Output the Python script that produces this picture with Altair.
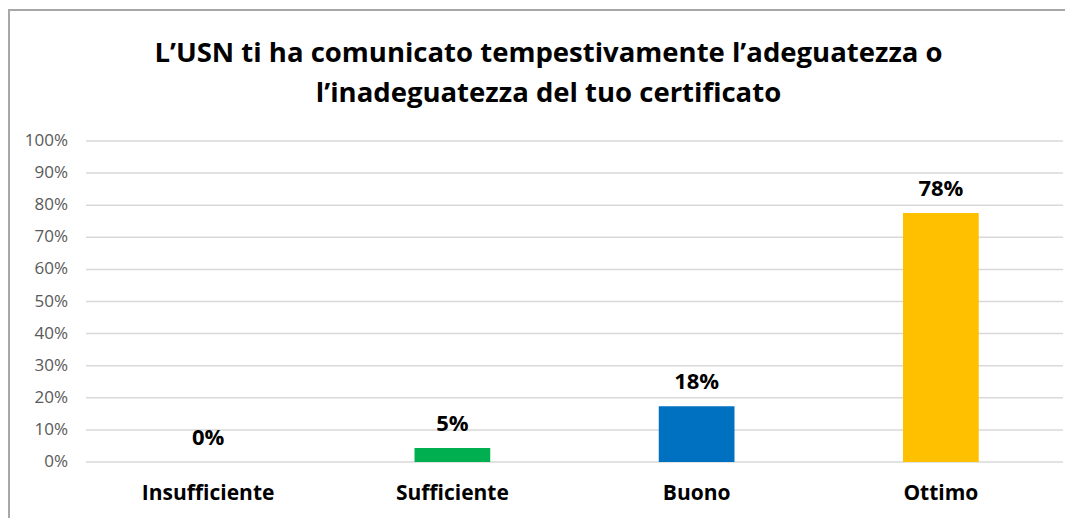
import altair as alt
import pandas as pd

categories = ["Insufficiente", "Sufficiente", "Buono", "Ottimo"]
values = [0.0, 0.044, 0.174, 0.776]
labels = ["0%", "5%", "18%", "78%"]
colors = ["#FFFFFF", "#00B050", "#0070C0", "#FFC000"]
y_ticks = [0, 0.1, 0.2, 0.3, 0.4, 0.5, 0.6, 0.7, 0.8, 0.9, 1.0]
y_tick_labels = ["0%", "10%", "20%", "30%", "40%", "50%", "60%", "70%", "80%", "90%", "100%"]

df = pd.DataFrame({"cat": categories, "val": values, "lab": labels, "col": colors})
ticks_df = pd.DataFrame({"val": y_ticks, "lab": y_tick_labels})

W, H = 977, 321
PL, PT, PR, PB = 78, 133, 2, 56

x_axis = alt.Axis(labelAngle=0, labelFont="Open Sans", labelFontSize=21,
                  labelFontWeight="bold", labelColor="#000000",
                  labelPadding=20, ticks=False, domain=False, grid=False)

x = alt.X("cat:N", sort=categories, title=None,
          scale=alt.Scale(paddingInner=0.69, paddingOuter=0.345), axis=x_axis)
yscale = alt.Scale(domain=[0, 1], nice=False)
y = alt.Y("val:Q", title=None, scale=yscale, axis=None)

grid = alt.Chart(ticks_df).mark_rule(color="#D9D9D9", strokeWidth=1.5).encode(
    y=y, x=alt.value(0), x2=alt.value(W)
)

ylabels = alt.Chart(ticks_df).mark_text(
    align="right", baseline="middle", font="Open Sans", fontSize=17, color="#595959"
).encode(y=y, x=alt.value(-18), text="lab:N")

bars = alt.Chart(df).mark_bar().encode(
    x=x, y=y, color=alt.Color("col:N", scale=None)
)

text = alt.Chart(df).mark_text(
    baseline="bottom", dy=-12, font="Open Sans", fontSize=22, fontWeight="bold", color="#000000"
).encode(x=x, y=y, text="lab:N")

frame = alt.Chart(df).mark_rect(fill=None, stroke="#A6A6A6", strokeWidth=1.5).encode(
    x=alt.value(-77), x2=alt.value(W + 40), y=alt.value(-131), y2=alt.value(H + 120)
)

chart = alt.layer(frame, grid, ylabels, bars, text).properties(
    width=W, height=H,
    autosize=alt.AutoSizeParams(type="none"),
    padding={"left": PL, "top": PT, "right": PR, "bottom": PB},
    title=alt.TitleParams(
        ["L’USN ti ha comunicato tempestivamente l’adeguatezza o",
         "l’inadeguatezza del tuo certificato"],
        font="Open Sans", fontSize=27.5, fontWeight="bold", color="#000000",
        anchor="middle", dx=-26, offset=-98, lineHeight=40,
    ),
).configure_view(stroke=None)

chart.save("out.html", embed_options={"renderer": "svg", "actions": False})
